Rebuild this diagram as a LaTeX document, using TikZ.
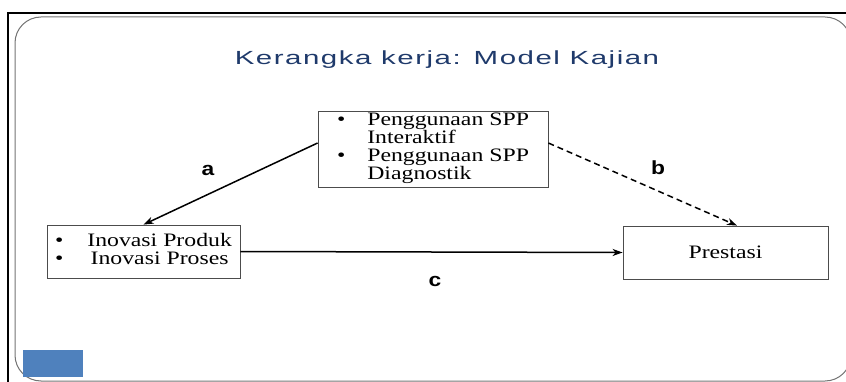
\documentclass[tikz,border=0pt]{standalone}
\usepackage{fontspec}
\usepackage{tikz}
\usetikzlibrary{positioning,arrows.meta}

\newfontfamily\boxfont[FakeStretch=1.25]{Liberation Serif}
\newfontfamily\titlefont[FakeStretch=1.55,LetterSpace=8]{Liberation Sans}
\newfontfamily\pathfont[FakeStretch=1.2]{Liberation Sans}
\definecolor{judul}{HTML}{1F3A6B}
\definecolor{kotakbiru}{HTML}{4F81BD}

\begin{document}
\begin{tikzpicture}[x=1pt, y=-1pt, >={Stealth[length=10pt, width=7pt, inset=3pt]},
  every box/.style={draw=black!70, line width=0.8pt, align=center, inner sep=2pt,
    font=\boxfont\fontsize{19}{17}\selectfont},
  path label/.style={font=\pathfont\bfseries\fontsize{19}{19}\selectfont},
  every link/.style={->, line width=1.5pt}]

\useasboundingbox (0,0) rectangle (846,382);

% Bingkai slide
\draw [line width=2.5pt] (8,382) -- (8,13) -- (846,13);
\draw [black!55, line width=1pt, rounded corners=26pt] (15,17) rectangle (851,381);
\fill [kotakbiru] (23,350) rectangle (83,377);

\node [font=\titlefont\fontsize{19}{20}\selectfont, text=judul] (judul) at (447,60)
  {Kerangka kerja: Model Kajian};

% Kotak variabel
\node [every box, minimum width=230, minimum height=68] (spp) at (433,149)
  {\begin{tabular}{@{}l@{\hspace{22pt}}l@{}}
   \textbullet & Penggunaan SPP\\
               & Interaktif\\
   \textbullet & Penggunaan SPP\\
               & Diagnostik
   \end{tabular}};

\node [every box, minimum width=193, minimum height=53] (inovasi) at (143.5,251.5)
  {\begin{tabular}{@{}l@{\hspace{24pt}}c@{}}
   \textbullet & Inovasi Produk\\
   \textbullet & Inovasi Proses
   \end{tabular}};

\node [every box, minimum width=205, minimum height=53] (prestasi) at (725.5,252.5) {Prestasi};

% Hubungan antar variabel
\draw [every link] ([yshift=6pt]spp.west) -- (inovasi.north);
\draw [every link, dashed, dash pattern=on 6pt off 4pt] ([yshift=6pt]spp.east) -- ([xshift=11.5pt]prestasi.north);
\draw [every link] (inovasi.east) -- (prestasi.west);

\foreach \l/\x/\y in {a/208/170, b/658/168, c/435/281}
  \node [path label] (label-\l) at (\x,\y) {\l};

\end{tikzpicture}
\end{document}
